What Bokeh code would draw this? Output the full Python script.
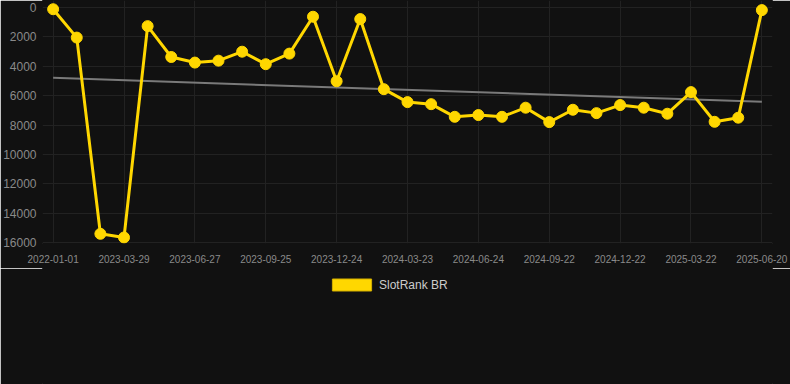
from bokeh.plotting import figure
from bokeh.layouts import column
from bokeh.models import Range1d, FixedTicker, Legend, LegendItem
from bokeh.embed import file_html
from bokeh.resources import INLINE

tick_labels = ["2022-01-01", "2023-03-29", "2023-06-27", "2023-09-25", "2023-12-24",
               "2024-03-23", "2024-06-24", "2024-09-22", "2024-12-22", "2025-03-22",
               "2025-06-20"]
rank_br = [120, 2050, 15400, 15650, 1270, 3370, 3750, 3620, 3010, 3860, 3140,
           630, 5020, 790, 5560, 6440, 6580, 7440, 7320, 7440, 6820, 7800,
           6960, 7190, 6640, 6820, 7230, 5760, 7780, 7500, 180]
trend_br = [4790, 6420]
y_ticks = [0, 2000, 4000, 6000, 8000, 10000, 12000, 14000, 16000]
series_name = "SlotRank BR"

idx = list(range(len(rank_br)))
n = len(rank_br)

BG = "#111111"
GOLD = "#FFD700"
FONT = "Liberation Sans"

p = figure(width=790, height=268, output_backend="svg", toolbar_location=None,
           x_range=Range1d(-0.45, n - 1 + 0.45), y_range=Range1d(16060, -474),
           background_fill_color=BG, border_fill_color=BG,
           outline_line_color=BG, outline_line_width=1,
           min_border_left=42, min_border_right=18, min_border_top=0, min_border_bottom=25)

p.line([0, n - 1], trend_br, line_color="#7a7a7a", line_width=2)
p.line(idx, rank_br, line_color=GOLD, line_width=3)
p.scatter(idx, rank_br, size=11, fill_color=GOLD, line_color=GOLD)

p.xaxis.ticker = FixedTicker(ticks=list(range(0, n, 3)))
p.xaxis.major_label_overrides = {i * 3: lab for i, lab in enumerate(tick_labels)}
p.yaxis.ticker = FixedTicker(ticks=y_ticks)

for ax in (p.xaxis, p.yaxis):
    ax.axis_line_color = None
    ax.major_tick_line_color = None
    ax.minor_tick_line_color = None
    ax.major_label_text_color = "#8a8a8a"
    ax.major_label_text_font = FONT
p.xaxis.major_label_text_font_size = "10px"
p.yaxis.major_label_text_font_size = "12px"
p.xaxis.major_label_standoff = 5
p.yaxis.major_label_standoff = 0

p.xgrid.grid_line_color = "#222222"
p.ygrid.grid_line_color = "#222222"

# legend strip below the chart
p2 = figure(width=790, height=116, output_backend="svg", toolbar_location=None,
            x_range=Range1d(0, 1), y_range=Range1d(0, 1),
            x_axis_location=None, y_axis_location=None,
            background_fill_color=BG, border_fill_color=BG,
            outline_line_color=BG, outline_line_width=1,
            min_border=0)
p2.xgrid.visible = False
p2.ygrid.visible = False
nan = float("nan")
swatch = p2.quad(left=[nan], right=[nan], top=[nan], bottom=[nan],
                 fill_color=GOLD, line_color="#D4B000")
legend = Legend(items=[LegendItem(label=series_name, renderers=[swatch])],
                location=(285, 92), orientation="horizontal",
                glyph_width=49, glyph_height=15, label_standoff=3,
                label_text_font=FONT, label_text_font_size="12px", label_text_color="#cccccc",
                background_fill_alpha=0, border_line_color=None, margin=0, padding=10)
p2.add_layout(legend, "center")

layout = column(p, p2, spacing=0)
open("out.html", "w").write(file_html(layout, INLINE))
